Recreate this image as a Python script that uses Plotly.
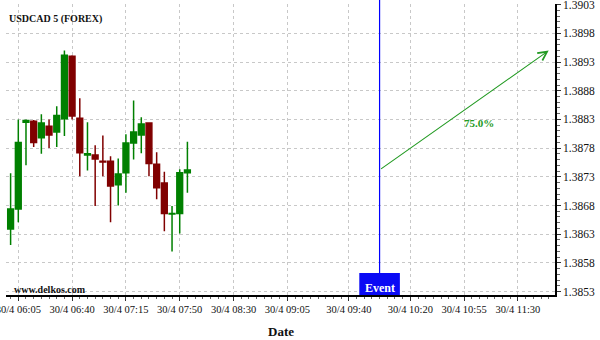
import plotly.graph_objects as go

# ---- data (minutes after 30/4 06:00, 5-minute bars) ----
times = [0, 5, 10, 15, 20, 25, 30, 35, 40, 45, 50, 55, 60, 65, 70, 75, 80, 85, 90, 95, 100, 105, 110, 115]
opens = [1.38639, 1.38674, 1.38825, 1.38827, 1.38798, 1.38818, 1.38808, 1.38831, 1.38940, 1.38832,
         1.38768, 1.38768, 1.38757, 1.38757, 1.38716, 1.38737, 1.38789, 1.38803, 1.38824, 1.38752,
         1.38719, 1.38665, 1.38666, 1.38737]
highs = [1.38736, 1.38830, 1.38830, 1.38829, 1.38839, 1.38830, 1.38853, 1.38950, 1.38942, 1.38867,
         1.38825, 1.38785, 1.38802, 1.38766, 1.38762, 1.38804, 1.38863, 1.38834, 1.38824, 1.38773,
         1.38739, 1.38679, 1.38743, 1.38791]
lows = [1.38611, 1.38651, 1.38750, 1.38782, 1.38770, 1.38780, 1.38782, 1.38801, 1.38830, 1.38731,
        1.38741, 1.38679, 1.38731, 1.38651, 1.38680, 1.38702, 1.38760, 1.38771, 1.38731, 1.38691,
        1.38635, 1.38600, 1.38631, 1.38702]
closes = [1.38674, 1.38790, 1.38828, 1.38790, 1.38824, 1.38803, 1.38837, 1.38942, 1.38836, 1.38772,
          1.38770, 1.38761, 1.38756, 1.38714, 1.38735, 1.38789, 1.38808, 1.38822, 1.38753, 1.38711,
          1.38666, 1.38666, 1.38737, 1.38742]

tick_vals = [5, 40, 75, 110, 145, 180, 220, 260, 295, 330]
tick_text = ["30/4 06:05", "30/4 06:40", "30/4 07:15", "30/4 07:50", "30/4 08:30",
             "30/4 09:05", "30/4 09:40", "30/4 10:20", "30/4 10:55", "30/4 11:30"]

event_t = 240
target_t = 350
target_price = 1.38950
probability = "75.0%"

SERIF = "Liberation Serif"
GREEN = "#008000"
RED = "#800000"
ARROW_GREEN = "#229a22"
GRID = "#c8c8c8"
PLOT_H = 291

fig = go.Figure()
fig.add_trace(go.Candlestick(
    x=times, open=opens, high=highs, low=lows, close=closes,
    increasing=dict(line=dict(color=GREEN, width=1.5), fillcolor=GREEN),
    decreasing=dict(line=dict(color=RED, width=1.5), fillcolor=RED),
    whiskerwidth=0, hoverinfo="skip", showlegend=False,
))

# event marker
fig.add_shape(type="line", xref="x", yref="paper", x0=event_t, x1=event_t, y0=0.07, y1=1.02,
              line=dict(color="blue", width=1.2), layer="above")
fig.add_shape(type="rect", xref="x", yref="paper", x0=event_t - 13.2, x1=event_t + 13.2,
              y0=0, y1=22 / PLOT_H, fillcolor="#0a0af5", line=dict(width=0), layer="above")
fig.add_annotation(x=event_t, xref="x", y=7 / PLOT_H, yref="paper", text="<b>Event</b>",
                   showarrow=False, font=dict(family=SERIF, size=12, color="white"),
                   xanchor="center", yanchor="middle")

# forecast arrow
fig.add_annotation(x=target_t, y=target_price, xref="x", yref="y",
                   ax=event_t, ay=closes[-1], axref="x", ayref="y",
                   text="", showarrow=True, arrowhead=5, arrowsize=1.6, arrowwidth=1.1,
                   arrowcolor=ARROW_GREEN, standoff=0, startstandoff=0)
fig.add_annotation(x=304.5, y=1.38823, xref="x", yref="y", text="<b>" + probability + "</b>",
                   showarrow=False, font=dict(family=SERIF, size=11, color=ARROW_GREEN),
                   xanchor="center", yanchor="middle")

# texts
fig.add_annotation(x=0.002, xref="paper", y=1 - 15 / PLOT_H, yref="paper",
                   text="<b>USDCAD 5 (FOREX)</b>", showarrow=False,
                   font=dict(family=SERIF, size=10, color="#111"), xanchor="left", yanchor="middle")
fig.add_annotation(x=0.0105, xref="paper", y=5.2 / PLOT_H, yref="paper", text="<b>www.delkos.com</b>",
                   showarrow=False, font=dict(family=SERIF, size=10, color="#111"),
                   xanchor="left", yanchor="middle")
fig.add_annotation(x=0.5, xref="paper", y=-36 / PLOT_H, yref="paper", text="<b>Date</b>",
                   showarrow=False, font=dict(family=SERIF, size=13, color="#111"),
                   xanchor="center", yanchor="middle")

fig.update_layout(
    width=600, height=340,
    margin=dict(l=6, r=45, t=4, b=45, autoexpand=False),
    paper_bgcolor="white", plot_bgcolor="white",
    boxgap=0.25, boxgroupgap=0,
    showlegend=False,
    xaxis=dict(
        range=[-3, 354.1], rangeslider=dict(visible=False), automargin=False,
        tickmode="array", tickvals=tick_vals, ticktext=tick_text,
        ticks="outside", ticklen=4, tickcolor="#333", tickwidth=1,
        showline=True, linecolor="black", linewidth=1.5,
        showgrid=True, gridcolor=GRID, gridwidth=1, griddash="3px,3px",
        zeroline=False, ticklabeloverflow="allow",
        tickfont=dict(family=SERIF, size=10.5, color="#111"),
        minor=dict(tickmode="linear", tick0=0, dtick=5, ticks="outside", ticklen=2,
                   tickcolor="#666", showgrid=False),
    ),
    yaxis=dict(
        side="right", range=[1.38524, 1.390312], automargin=False,
        tick0=1.3853, dtick=0.0005, tickformat=".4f",
        ticks="outside", ticklen=4, tickcolor="#333",
        showline=True, linecolor="black", linewidth=1.5,
        showgrid=True, gridcolor=GRID, gridwidth=1, griddash="3px,3px",
        zeroline=False, ticklabeloverflow="allow",
        tickfont=dict(family=SERIF, size=11.5, color="#111"),
        minor=dict(tick0=1.3853, dtick=0.0001, ticks="outside", ticklen=3,
                   tickcolor="#666", showgrid=False),
    ),
)

fig.write_html("out.html")
